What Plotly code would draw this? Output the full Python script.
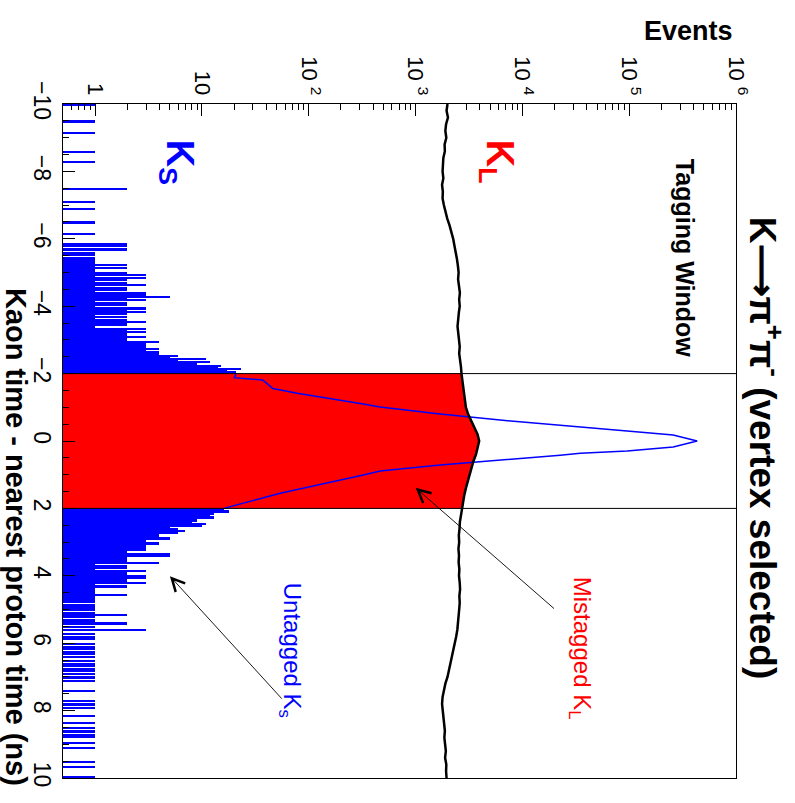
import numpy as np
import plotly.graph_objects as go

# ---- data -------------------------------------------------------------
# fine binning of the kaon time (ns) used for the untagged K_S histogram
BIN_W = 0.05
T_MIN, T_MAX = -10.0, 10.0
WINDOW = [-2.0, 2.0]

# untagged K_S counts, bins from -10 to -2 ns (0.05 ns each)
ks_left_counts = [
    1, 0, 0, 0, 0, 0, 0, 0, 0, 0, 1, 0, 0, 0, 0, 0, 0, 1, 0, 0,
    0, 0, 0, 0, 0, 0, 0, 0, 1, 0, 0, 0, 0, 0, 1, 0, 0, 0, 0, 0,
    0, 0, 0, 0, 0, 0, 0, 0, 0, 0, 2, 0, 0, 0, 0, 0, 0, 0, 1, 0,
    0, 0, 1, 0, 0, 0, 0, 0, 0, 0, 1, 0, 0, 0, 0, 0, 0, 1, 0, 0,
    0, 0, 0, 2, 2, 0, 2, 0, 1, 1, 0, 1, 1, 1, 1, 2, 1, 2, 1, 1,
    2, 3, 1, 3, 2, 1, 2, 3, 1, 2, 2, 1, 3, 3, 5, 2, 3, 1, 2, 2,
    1, 3, 2, 3, 2, 1, 2, 1, 2, 3, 2, 2, 1, 3, 2, 3, 2, 2, 3, 2,
    2, 4, 3, 3, 3, 4, 3, 4, 4, 6, 5, 11, 6, 12, 9, 15, 14, 23, 17, 21,
]

# untagged K_S counts, bins from 2 to 10 ns (0.05 ns each)
ks_right_counts = [
    16, 18, 18, 13, 12, 13, 9, 9, 8, 11, 10, 5, 6, 7, 6, 4, 4, 5, 5, 3,
    4, 4, 3, 3, 3, 2, 2, 5, 5, 2, 2, 2, 4, 1, 2, 2, 1, 3, 2, 2,
    3, 3, 2, 2, 3, 1, 2, 1, 1, 1, 1, 2, 1, 1, 1, 1, 0, 1, 1, 1,
    1, 0, 1, 2, 1, 0, 1, 1, 2, 0, 1, 0, 3, 0, 1, 0, 1, 1, 0, 0,
    1, 0, 1, 1, 0, 1, 1, 0, 1, 0, 1, 0, 1, 1, 0, 1, 1, 0, 1, 0,
    1, 0, 1, 0, 0, 0, 0, 0, 1, 0, 0, 0, 0, 0, 1, 0, 1, 0, 1, 0,
    0, 0, 0, 1, 0, 0, 0, 1, 0, 0, 1, 0, 1, 0, 1, 1, 0, 0, 0, 1,
    0, 0, 1, 0, 0, 0, 0, 0, 0, 0, 1, 0, 0, 1, 0, 0, 0, 0, 0, 1,
]

# full K_S distribution inside the tagging window (ns, events)
ks_peak_time = [-2.0, -1.88, -1.81, -1.56, -1.42, -1.27, -1.10, -1.01, -0.80,
                -0.62, -0.475, -0.42, -0.30, -0.18, 0.0, 0.18, 0.30, 0.36,
                0.42, 0.71, 0.89, 1.01, 1.23, 1.45, 1.55, 1.69, 1.96, 2.0]
ks_peak_events = [21, 20, 37, 46, 78, 158, 324, 465, 1700,
                  6200, 22600, 34800, 95600, 258000, 433000, 258000, 95600, 34800,
                  22600, 1700, 465, 324, 158, 78, 54, 37, 18, 16]

# K_L distribution, 0.2 ns steps from -10 to 10 ns
kl_events = [
    1990, 1950, 2010, 1930, 1900, 1940, 1870, 1880, 1820, 1800,
    1790, 1820, 1770, 1800, 1790, 1840, 1900, 1980, 2080, 2180,
    2250, 2310, 2390, 2440, 2490, 2530, 2500, 2570, 2600, 2560,
    2590, 2540, 2520, 2470, 2510, 2540, 2590, 2560, 2620, 2660,
    2690, 2740, 2800, 2850, 2900, 2960, 3100, 3300, 3520, 3800,
    3940, 3820, 3680, 3480, 3330, 3180, 3080, 2960, 2860, 2790,
    2700, 2660, 2600, 2580, 2540, 2560, 2520, 2550, 2530, 2570,
    2550, 2590, 2610, 2570, 2590, 2560, 2530, 2500, 2460, 2400,
    2330, 2260, 2200, 2130, 2070, 1990, 1900, 1840, 1790, 1770,
    1790, 1820, 1850, 1880, 1860, 1900, 1920, 1890, 1940, 1930,
    1950,
]
kl_time = np.round(np.linspace(T_MIN, T_MAX, len(kl_events)), 2)

# axis ticks
EV_MIN, EV_MAX = 0.5, 1e6
event_ticks = [1, 10, 100, 1e3, 1e4, 1e5, 1e6]
event_tick_text = ["1", "10", "10 <sup>2</sup>", "10 <sup>3</sup>",
                   "10 <sup>4</sup>", "10 <sup>5</sup>", "10 <sup>6</sup>"]
event_minor_ticks = [d * 10.0 ** k for k in range(-1, 6) for d in range(2, 10)
                     if d * 10.0 ** k >= EV_MIN]
time_ticks = [-10, -8, -6, -4, -2, 0, 2, 4, 6, 8, 10]

# ---- figure -----------------------------------------------------------
BLUE = "#0000ff"
RED = "#ff0000"
FONT = "Liberation Sans, Arial, Helvetica, sans-serif"

left_c = np.array(ks_left_counts, dtype=float)
right_c = np.array(ks_right_counts, dtype=float)
left_t = WINDOW[0] - BIN_W * len(left_c) + BIN_W * (np.arange(len(left_c)) + 0.5)
right_t = WINDOW[1] + BIN_W * (np.arange(len(right_c)) + 0.5)
unt_t = np.concatenate([left_t, right_t])
unt_c = np.concatenate([left_c, right_c])
nz = unt_c > 0

kl_arr = np.array(kl_events, dtype=float)
in_win = (kl_time >= WINDOW[0]) & (kl_time <= WINDOW[1])

fig = go.Figure()

# untagged K_S (outside the tagging window)
fig.add_trace(go.Bar(
    x=unt_c[nz], y=unt_t[nz], orientation="h", width=BIN_W,
    marker=dict(color=BLUE, line=dict(width=0)), hoverinfo="skip",
))

# mistagged K_L (inside the tagging window)
fig.add_trace(go.Scatter(
    x=kl_arr[in_win], y=kl_time[in_win], mode="lines", fill="tozerox",
    fillcolor=RED, line=dict(color=RED, width=0), hoverinfo="skip",
))

# K_S peak outline
fig.add_trace(go.Scatter(
    x=ks_peak_events, y=ks_peak_time, mode="lines",
    line=dict(color=BLUE, width=1.5), hoverinfo="skip",
))

# K_L distribution
fig.add_trace(go.Scatter(
    x=kl_arr, y=kl_time, mode="lines",
    line=dict(color="black", width=2.5), hoverinfo="skip",
))

# empty trace that keeps the minor-tick axis alive
fig.add_trace(go.Scatter(x=[], y=[], xaxis="x2", yaxis="y",
                         mode="lines", hoverinfo="skip"))

# tagging window edges
for edge in WINDOW:
    fig.add_shape(type="line", xref="paper", x0=0, x1=1, yref="y",
                  y0=edge, y1=edge, line=dict(color="black", width=1),
                  layer="above")


def label(text, x, y, size, color, xref="paper", yref="paper", angle=90):
    return dict(text=text, xref=xref, yref=yref, x=x, y=y, textangle=angle,
                xanchor="center", yanchor="middle", showarrow=False,
                font=dict(size=size, color=color, family=FONT))


ann = [
    # plot title and axis titles
    label("<b>K⟶π<sup>+</sup>π<sup>-</sup> (vertex selected)</b>",
          1.043, 0.49, 37, "black"),
    label("<b>Events</b>", 0.930, 1.108, 27, "black", angle=0),
    label("<b>Kaon time - nearest proton time (ns)</b>",
          -0.0698, 0.3576, 29, "black"),
    # species labels
    label("<b>K<sub>S</sub></b>", 0.768, -8.28, 38, BLUE, "x", "y"),
    label("<b>K<sub>L</sub></b>", 3.764, -8.28, 38, RED, "x", "y"),
    label("<b>Tagging Window</b>", 5.524, -5.43, 25, "black", "x", "y"),
    label("Mistagged K<sub>L</sub>", 4.541, 6.14, 24, RED, "x", "y"),
    label("Untagged K<sub>s</sub>", 1.826, 6.20, 24, BLUE, "x", "y"),
    # arrows
    dict(text="", xref="x", yref="y", x=3.0, y=1.39,
         axref="x", ayref="y", ax=4.31, ay=5.01, showarrow=True,
         arrowhead=5, arrowsize=2.8, arrowwidth=0.9, arrowcolor="black"),
    dict(text="", xref="x", yref="y", x=0.70, y=4.01,
         axref="x", ayref="y", ax=1.76, ay=7.69, showarrow=True,
         arrowhead=5, arrowsize=2.8, arrowwidth=0.9, arrowcolor="black"),
]

fig.update_layout(
    width=795, height=803,
    margin=dict(l=63, r=59, t=104, b=25),
    paper_bgcolor="white", plot_bgcolor="white",
    showlegend=False, bargap=0, barmode="overlay",
    font=dict(family=FONT, color="black"),
    annotations=ann,
    xaxis=dict(
        type="log", range=[np.log10(EV_MIN), np.log10(EV_MAX)], side="top",
        tickvals=event_ticks, ticktext=event_tick_text, tickangle=90,
        tickfont=dict(size=22, color="black", family=FONT),
        ticks="inside", ticklen=12, tickwidth=1.2, tickcolor="black",
        showline=True, linecolor="black", linewidth=1, mirror=True,
        showgrid=False, zeroline=False,
    ),
    xaxis2=dict(
        type="log", range=[np.log10(EV_MIN), np.log10(EV_MAX)], side="top",
        overlaying="x", anchor="y", tickmode="array",
        tickvals=event_minor_ticks, showticklabels=False,
        ticks="inside", ticklen=6, tickwidth=1.2, tickcolor="black",
        showline=False, showgrid=False, zeroline=False,
    ),
    yaxis=dict(
        range=[T_MAX, T_MIN], tickvals=time_ticks, tickangle=90,
        tickfont=dict(size=23, color="black", family=FONT),
        ticks="inside", ticklen=12, tickwidth=1.2, tickcolor="black",
        minor=dict(dtick=0.5, ticks="inside", ticklen=6, tickwidth=1.2,
                   tickcolor="black", showgrid=False),
        showline=True, linecolor="black", linewidth=1, mirror=True,
        showgrid=False, zeroline=False,
    ),
)

fig.write_html("out.html")
